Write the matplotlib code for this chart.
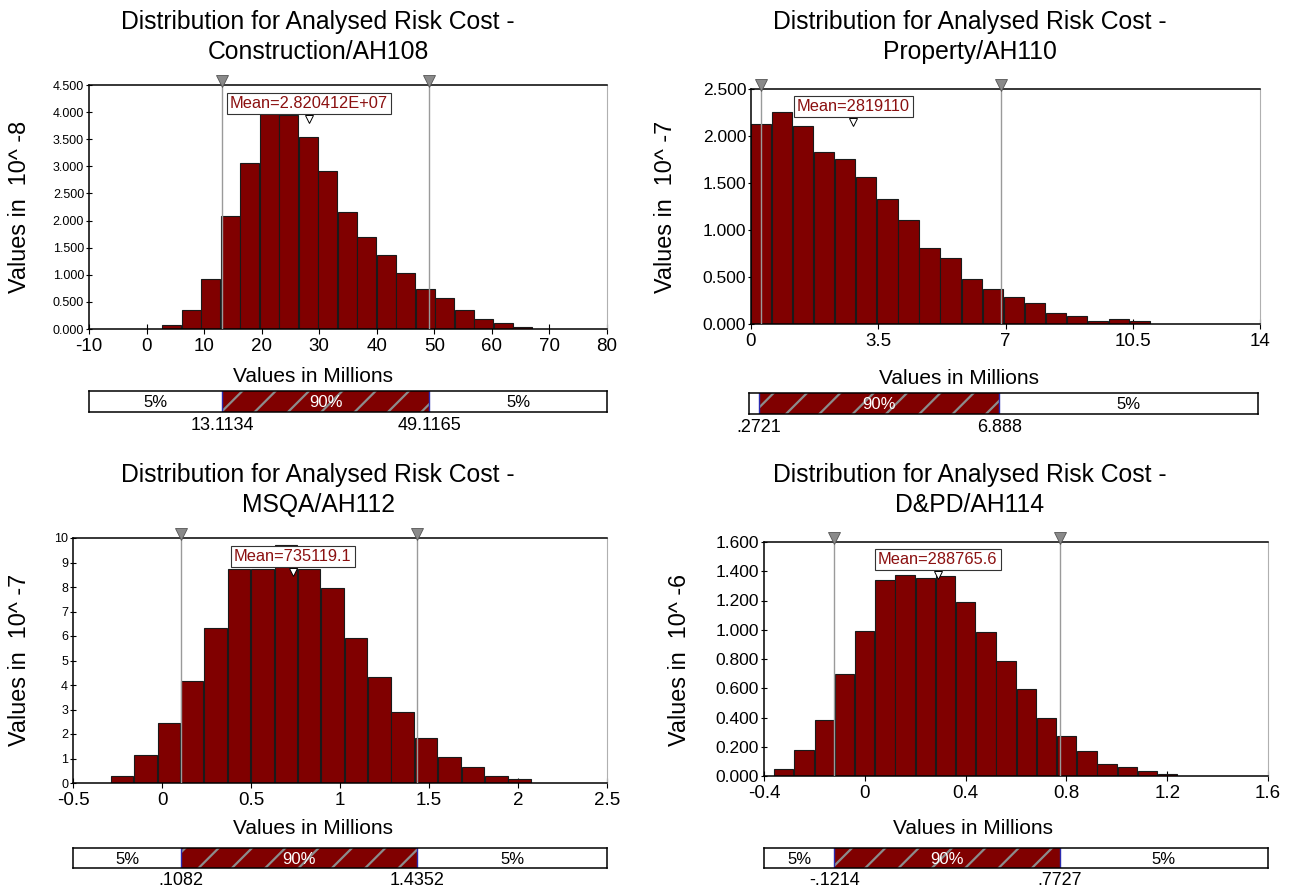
import matplotlib
matplotlib.use('Agg')
import matplotlib.pyplot as plt
import matplotlib.transforms as mtransforms
from matplotlib.patches import Rectangle
import numpy as np

plt.rcParams['font.family'] = ['Liberation Sans', 'DejaVu Sans']
plt.rcParams['hatch.linewidth'] = 1.6

W, H = 1294, 891

# ---- data (values in millions, densities in 10^-n) ----
construction_heights = [0.067, 0.343, 0.926, 2.078, 3.07, 3.96, 3.94, 3.55, 2.91, 2.164,
                        1.692, 1.367, 1.03, 0.73, 0.564, 0.343, 0.184, 0.116, 0.043]
construction_bin_start, construction_bin_width = 2.73, 3.39
construction_mean, construction_mean_label = 28.20412, 'Mean=2.820412E+07'
construction_p5, construction_p95 = 13.1134, 49.1165
construction_p_labels = ['13.1134', '49.1165']

property_heights = [2.13, 2.255, 2.106, 1.825, 1.754, 1.562, 1.335, 1.104, 0.806, 0.703,
                    0.479, 0.376, 0.284, 0.220, 0.114, 0.085, 0.036, 0.05, 0.032]
property_bin_start, property_bin_width = 0.0, 0.579
property_mean, property_mean_label = 2.819110, 'Mean=2819110'
property_p5, property_p95 = 0.2721, 6.888
property_p_labels = ['.2721', '6.888']

msqa_heights = [0.286, 1.13, 2.44, 4.18, 6.33, 8.72, 8.75, 9.70, 8.72, 7.96,
                5.93, 4.31, 2.88, 1.84, 1.05, 0.65, 0.286, 0.18]
msqa_bin_start, msqa_bin_width = -0.2875, 0.1314
msqa_mean, msqa_mean_label = 0.7351191, 'Mean=735119.1'
msqa_p5, msqa_p95 = 0.1082, 1.4352
msqa_p_labels = ['.1082', '1.4352']

dpd_heights = [0.048, 0.18, 0.385, 0.695, 0.989, 1.340, 1.377, 1.352, 1.365, 1.19,
               0.985, 0.784, 0.597, 0.394, 0.276, 0.173, 0.080, 0.062, 0.036, 0.014]
dpd_bin_start, dpd_bin_width = -0.360, 0.0802
dpd_mean, dpd_mean_label = 0.2887656, 'Mean=288765.6'
dpd_p5, dpd_p95 = -0.1214, 0.7727
dpd_p_labels = ['-.1214', '.7727']

titles = ['Distribution for Analysed Risk Cost -\nConstruction/AH108',
          'Distribution for Analysed Risk Cost -\nProperty/AH110',
          'Distribution for Analysed Risk Cost -\nMSQA/AH112',
          'Distribution for Analysed Risk Cost -\nD&PD/AH114']
ylabels = ['Values in  10^ -8', 'Values in  10^ -7', 'Values in  10^ -7', 'Values in  10^ -6']

MAROON = '#800000'


def frac(x0, y0, x1, y1):
    return [x0 / W, 1 - y1 / H, (x1 - x0) / W, (y1 - y0) / H]


panels = [
    dict(heights=construction_heights, start=construction_bin_start, width=construction_bin_width,
         mean=construction_mean, mean_label=construction_mean_label,
         p5=construction_p5, p95=construction_p95, plabels=construction_p_labels,
         xlim=(-10, 80), xticks=np.arange(-10, 81, 10), xticklabels=None,
         ylim=(0, 4.5), yticks=np.arange(0, 4.51, 0.5), yfmt='{:.3f}', ysize=9,
         rect=(89, 85, 607, 329), brect=(89, 391, 607, 412),
         title_xy=(318, 37), ylab_xy=(20, 207), xlab_xy=(313, 376)),
    dict(heights=property_heights, start=property_bin_start, width=property_bin_width,
         mean=property_mean, mean_label=property_mean_label,
         p5=property_p5, p95=property_p95, plabels=property_p_labels,
         xlim=(0, 14), xticks=[0, 3.5, 7, 10.5, 14], xticklabels=['0', '3.5', '7', '10.5', '14'],
         ylim=(0, 2.5), yticks=np.arange(0, 2.51, 0.5), yfmt='{:.3f}', ysize=12.5,
         rect=(751, 89, 1260, 324), brect=(749, 393, 1258, 414),
         title_xy=(970, 37), ylab_xy=(665, 207), xlab_xy=(959, 378)),
    dict(heights=msqa_heights, start=msqa_bin_start, width=msqa_bin_width,
         mean=msqa_mean, mean_label=msqa_mean_label,
         p5=msqa_p5, p95=msqa_p95, plabels=msqa_p_labels,
         xlim=(-0.5, 2.5), xticks=np.arange(-0.5, 2.51, 0.5),
         xticklabels=['-0.5', '0', '0.5', '1', '1.5', '2', '2.5'],
         ylim=(0, 10), yticks=np.arange(0, 11, 1), yfmt='{:.0f}', ysize=9,
         rect=(73, 538, 607, 783), brect=(73, 848, 607, 868),
         title_xy=(318, 490), ylab_xy=(20, 660), xlab_xy=(313, 829)),
    dict(heights=dpd_heights, start=dpd_bin_start, width=dpd_bin_width,
         mean=dpd_mean, mean_label=dpd_mean_label,
         p5=dpd_p5, p95=dpd_p95, plabels=dpd_p_labels,
         xlim=(-0.4, 1.6), xticks=np.arange(-0.4, 1.61, 0.4),
         xticklabels=['-0.4', '0', '0.4', '0.8', '1.2', '1.6'],
         ylim=(0, 1.6), yticks=np.arange(0, 1.61, 0.2), yfmt='{:.3f}', ysize=12.5,
         rect=(764, 542, 1268, 776), brect=(764, 848, 1268, 868),
         title_xy=(970, 490), ylab_xy=(680, 660), xlab_xy=(973, 829)),
]

fig = plt.figure(figsize=(W / 100, H / 100), dpi=100)

for i, p in enumerate(panels):
    ax = fig.add_axes(frac(*p['rect']))
    n = len(p['heights'])
    lefts = p['start'] + p['width'] * np.arange(n)
    ax.bar(lefts, p['heights'], width=p['width'] * 0.96, align='edge',
           color=MAROON, edgecolor='#1a1a1a', linewidth=0.8, zorder=2)
    ax.set_xlim(*p['xlim'])
    ax.set_ylim(*p['ylim'])
    ax.set_xticks(p['xticks'])
    if p['xticklabels'] is not None:
        ax.set_xticklabels(p['xticklabels'])
    else:
        ax.set_xticklabels([f'{v:g}' for v in p['xticks']])
    ax.set_yticks(p['yticks'])
    ax.set_yticklabels([p['yfmt'].format(v) for v in p['yticks']])
    ax.tick_params(axis='x', labelsize=13.5, direction='inout', length=7, width=0.8, pad=3)
    ax.tick_params(axis='y', labelsize=p['ysize'], direction='inout', length=5, width=0.8, pad=1)
    for s in ['left', 'bottom', 'top']:
        ax.spines[s].set_color('black')
        ax.spines[s].set_linewidth(1.1)
    ax.spines['right'].set_color('#b0b0b0')
    ax.spines['right'].set_linewidth(0.8)

    trans = mtransforms.blended_transform_factory(ax.transData, ax.transAxes)
    up = trans + mtransforms.ScaledTranslation(0, 3 / 72, fig.dpi_scale_trans)
    for v in (p['p5'], p['p95']):
        ax.axvline(v, color='#9a9a9a', lw=1, zorder=4)
        ax.plot([v], [1.0], marker='v', ms=9, mfc='#8a8a8a', mec='#555555', mew=0.6,
                transform=up, clip_on=False, zorder=6)

    ax.text(p['mean'], 0.925, p['mean_label'], transform=trans, ha='center', va='center',
            color='#8b1010', fontsize=11.8, zorder=7,
            bbox=dict(boxstyle='square,pad=0.2', fc='white', ec='#333333', lw=0.8))
    ax.plot([p['mean']], [0.86], marker='v', ms=6, mfc='white', mec='black', mew=0.7,
            transform=trans, clip_on=False, zorder=8)

    # titles and labels
    tx, ty = p['title_xy']
    fig.text(tx / W, 1 - ty / H, titles[i], ha='center', va='center',
             fontsize=17.8, linespacing=1.32)
    lx, ly = p['ylab_xy']
    fig.text(lx / W, 1 - ly / H, ylabels[i], rotation=90, ha='center', va='center', fontsize=16.8)
    xx, xy = p['xlab_xy']
    fig.text(xx / W, 1 - xy / H, 'Values in Millions', ha='center', va='center', fontsize=15)

    # percentile bar
    bax = fig.add_axes(frac(*p['brect']))
    bax.set_xlim(*p['xlim'])
    bax.set_ylim(0, 1)
    bax.set_xticks([])
    bax.set_yticks([])
    for s in bax.spines.values():
        s.set_color('black')
        s.set_linewidth(1.1)
    bax.add_patch(Rectangle((p['p5'], 0), p['p95'] - p['p5'], 1, facecolor=MAROON,
                            edgecolor='#8c8c8c', hatch='/', lw=0))
    for v in (p['p5'], p['p95']):
        bax.axvline(v, color='#2b2bb0', lw=1)
    x0, x1 = p['xlim']
    span = x1 - x0
    if (p['p5'] - x0) / span > 0.05:
        bax.text((x0 + p['p5']) / 2, 0.45, '5%', ha='center', va='center', fontsize=12)
    bax.text((p['p5'] + p['p95']) / 2, 0.45, '90%', ha='center', va='center',
             fontsize=12, color='white')
    bax.text((p['p95'] + x1) / 2, 0.45, '5%', ha='center', va='center', fontsize=12)
    for v, lbl in zip((p['p5'], p['p95']), p['plabels']):
        bax.text(v, -0.22, lbl, ha='center', va='top', fontsize=13, clip_on=False)

fig.savefig('out.png', dpi=100)
